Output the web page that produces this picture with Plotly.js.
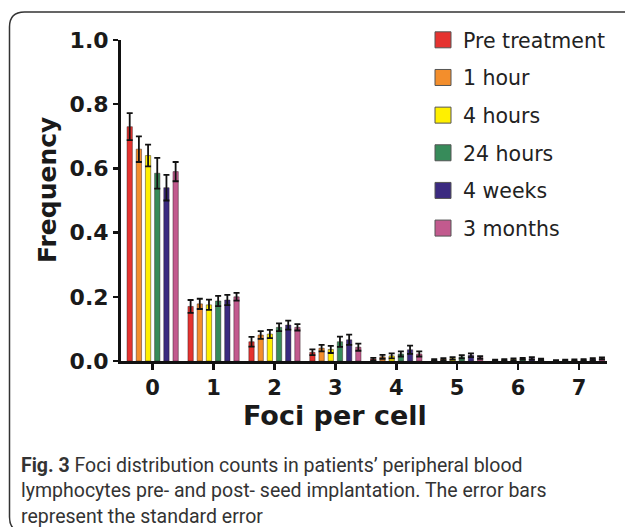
<!DOCTYPE html>
<html>
<head>
<meta charset="utf-8">
<script src="https://cdn.plot.ly/plotly-3.0.1.min.js"></script>
<style>
html,body{margin:0;padding:0;background:#fff;}
#chart{width:625px;height:527px;}
</style>
</head>
<body>
<div id="chart"></div>
<script>
// ---- data ----
const categories = [0, 1, 2, 3, 4, 5, 6, 7];
const seriesNames = ["Pre treatment", "1 hour", "4 hours", "24 hours", "4 weeks", "3 months"];
const seriesColors = ["#E53330", "#F38E2C", "#FFF000", "#378B5A", "#3B2A80", "#C25A8E"];

const preTreatment = [0.73, 0.170, 0.060, 0.027, 0.006, 0.003, 0.002, 0.001];
const oneHour      = [0.66, 0.178, 0.081, 0.040, 0.013, 0.006, 0.004, 0.002];
const fourHours    = [0.64, 0.175, 0.084, 0.036, 0.016, 0.008, 0.005, 0.003];
const day1         = [0.585, 0.187, 0.105, 0.060, 0.022, 0.013, 0.007, 0.004];
const fourWeeks    = [0.54, 0.190, 0.112, 0.066, 0.035, 0.018, 0.008, 0.006];
const threeMonths  = [0.59, 0.200, 0.105, 0.043, 0.022, 0.011, 0.004, 0.008];

const errPre   = [0.042, 0.020, 0.015, 0.009, 0.004, 0.003, 0.002, 0.002];
const err1h    = [0.040, 0.016, 0.012, 0.010, 0.006, 0.003, 0.002, 0.002];
const err4h    = [0.034, 0.016, 0.013, 0.011, 0.008, 0.004, 0.003, 0.002];
const err24h   = [0.048, 0.016, 0.012, 0.016, 0.008, 0.005, 0.003, 0.002];
const err4w    = [0.040, 0.016, 0.014, 0.016, 0.013, 0.006, 0.004, 0.003];
const err3m    = [0.030, 0.012, 0.010, 0.011, 0.008, 0.004, 0.003, 0.003];

const yTicks = [0, 0.2, 0.4, 0.6, 0.8, 1.0];
const xTitle = "Foci per cell";
const yTitle = "Frequency";
const captionLines = [
  "<b>Fig. 3</b> Foci distribution counts in patients\u2019 peripheral blood",
  "lymphocytes pre- and post- seed implantation. The error bars",
  "represent the standard error"
];

const values = [preTreatment, oneHour, fourHours, day1, fourWeeks, threeMonths];
const errors = [errPre, err1h, err4h, err24h, err4w, err3m];

// ---- traces ----
const traces = [];
values.forEach((v, i) => {
  traces.push({
    type: "bar",
    x: categories,
    y: v,
    name: seriesNames[i],
    showlegend: false,
    marker: {color: seriesColors[i], line: {color: "rgba(40,20,20,0.55)", width: 0.8}},
    error_y: {type: "data", array: errors[i], visible: true, color: "#111", thickness: 1.8, width: 3}
  });
});
// legend entries (square swatches)
seriesNames.forEach((n, i) => {
  traces.push({
    type: "scatter", mode: "markers", x: [null], y: [null], name: n,
    legendgroup: "g" + i,
    marker: {symbol: "square", size: 16, color: seriesColors[i], line: {color: "#555", width: 1}},
    hoverinfo: "skip"
  });
});

const L = 121, R = 607, T = 40, B = 361;
const W = R - L, H = B - T;
const px = x => (x - L) / W;
const py = y => (B - y) / H;

const annotations = [
  {text: xTitle, xref: "paper", yref: "paper", x: px(335), y: py(415), xanchor: "center", yanchor: "middle",
   showarrow: false, font: {family: "DejaVu Sans", size: 27, weight: "bold", color: "#1a1a1a"}},
  {text: yTitle, xref: "paper", yref: "paper", x: px(47), y: py(190), xanchor: "center", yanchor: "middle",
   textangle: -90, showarrow: false, font: {family: "DejaVu Sans", size: 25, weight: "bold", color: "#1a1a1a"}}
];
captionLines.forEach((t, i) => {
  annotations.push({text: t, xref: "paper", yref: "paper", x: px(19), y: py(465 + 25.5 * i),
    xanchor: "left", yanchor: "middle", align: "left", showarrow: false,
    font: {family: "Roboto", size: 19.5, color: "#333"}});
});

const rx = 15 / W, ry = 15 / H;
const x0 = px(9.5), y0 = py(12), x1 = px(640), y1 = py(532);
const borderPath = `M ${x1},${y0} L ${x0 + rx},${y0} Q ${x0},${y0} ${x0},${y0 - ry} L ${x0},${y1 + ry} Q ${x0},${y1} ${x0 + rx},${y1} L ${x1},${y1}`;

const layout = {
  width: 625, height: 527,
  margin: {l: L, r: 625 - R, t: T, b: 527 - B, pad: 0},
  paper_bgcolor: "#fff", plot_bgcolor: "#fff",
  barmode: "group", bargap: 0.095, bargroupgap: 0.42,
  showlegend: true,
  legend: {x: px(423), y: py(20), xanchor: "left", yanchor: "top", tracegroupgap: 8,
    font: {family: "DejaVu Sans", size: 20.5, color: "#222"}, bgcolor: "rgba(0,0,0,0)", itemclick: false},
  xaxis: {
    range: [-0.52, 7.46], tickvals: categories, ticktext: categories.map(String),
    showgrid: false, zeroline: false, showline: true, linecolor: "#111", linewidth: 3,
    ticks: "outside", ticklen: 6, tickwidth: 2.5, tickcolor: "#111",
    tickfont: {family: "DejaVu Sans", size: 21, weight: "bold", color: "#1a1a1a"}
  },
  yaxis: {
    range: [0, 1.0], tickvals: yTicks, tickformat: ".1f",
    showgrid: false, zeroline: false, showline: true, linecolor: "#111", linewidth: 3,
    ticks: "outside", ticklen: 5, tickwidth: 2.5, tickcolor: "#111",
    tickfont: {family: "DejaVu Sans", size: 22, weight: "bold", color: "#1a1a1a"}
  },
  annotations: annotations,
  shapes: [{type: "path", xref: "paper", yref: "paper", path: borderPath, line: {color: "#333", width: 1.5}, layer: "above"}]
};

Plotly.newPlot("chart", traces, layout, {staticPlot: true, displayModeBar: false});
</script>
</body>
</html>
